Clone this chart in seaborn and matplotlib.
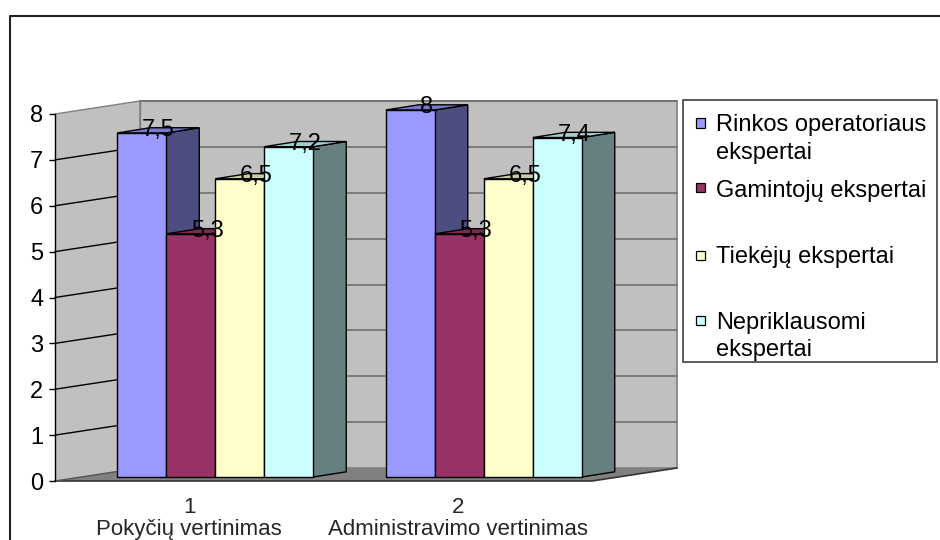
import numpy as np
import pandas as pd
import matplotlib
matplotlib.use("Agg")
import matplotlib.pyplot as plt
from matplotlib.patches import Polygon, Rectangle
from matplotlib.lines import Line2D
import seaborn as sns

# ---- data -------------------------------------------------------------
categories = ["1\nPokyčių vertinimas", "2\nAdministravimo vertinimas"]
series_names = ["Rinkos operatoriaus\nekspertai", "Gamintojų ekspertai",
                "Tiekėjų ekspertai", "Nepriklausomi\nekspertai"]
rinkos_operatoriaus = [7.5, 8.0]
gamintoju = [5.3, 5.3]
tiekeju = [6.5, 6.5]
nepriklausomi = [7.2, 7.4]
y_ticks = [0, 1, 2, 3, 4, 5, 6, 7, 8]
colors = ["#9999FF", "#993366", "#FFFFCC", "#CCFFFF"]

series_values = [rinkos_operatoriaus, gamintoju, tiekeju, nepriklausomi]
df = pd.DataFrame(
    [(cat, name, vals[i]) for name, vals in zip(series_names, series_values)
     for i, cat in enumerate(categories)],
    columns=["kategorija", "grupe", "reiksme"],
)

# ---- style ------------------------------------------------------------
sns.set_style("white")
plt.rcParams["font.family"] = ["Liberation Sans", "DejaVu Sans"]
FS = 17          # value labels, legend, value axis
FS_CAT = 16      # category labels

W, H = 940, 540
fig = plt.figure(figsize=(W / 100, H / 100), dpi=100)
fig.patch.set_facecolor("white")


def fx(x):
    return x / W


def fy(y):
    return 1 - y / H


# pixel sizes of one data unit
UX = 268.5     # px per category
UY = 45.875    # px per value unit

# front plane (value axis) and bar plane axes
ax_front = fig.add_axes([fx(55), fy(481), 2 * UX / W, 8 * UY / H])
ax_bar = fig.add_axes([fx(81), fy(477), 2 * UX / W, 8 * UY / H])
for a in (ax_front, ax_bar):
    a.set_xlim(-0.5, 1.5)
    a.set_ylim(0, 8)
ax_front.set_zorder(0)
ax_bar.set_zorder(1)
ax_bar.patch.set_alpha(0)
ax_front.patch.set_alpha(0)

# depth of the back wall, in data units of the front plane
wdx, wdy = 85 / UX, 13 / UY
x0, x1 = -0.5, 1.5
wall_grey = "#C0C0C0"
line_grey = "#808080"

# side wall and back wall
ax_front.add_patch(Polygon([(x0, 0), (x0, 8), (x0 + wdx, 8 + wdy), (x0 + wdx, wdy)],
                           closed=True, facecolor=wall_grey, edgecolor="none",
                           clip_on=False, zorder=1))
ax_front.add_patch(Rectangle((x0 + wdx, wdy), x1 - x0, 8, facecolor=wall_grey,
                             edgecolor=line_grey, linewidth=1.2, clip_on=False, zorder=1))
# floor
ax_front.add_patch(Polygon([(x0, 0), (x1, 0), (x1 + wdx, wdy), (x0 + wdx, wdy)],
                           closed=True, facecolor="#808080", edgecolor="none",
                           clip_on=False, zorder=1.5))
ax_front.add_line(Line2D([x0, x1, x1 + wdx], [0, 0, wdy], color="#333333",
                         linewidth=1.2, clip_on=False, zorder=2))
ax_front.add_line(Line2D([x0, x0 + wdx], [0, wdy], color="#555555",
                         linewidth=1.0, clip_on=False, zorder=2))

# gridlines: slanted on the side wall, horizontal on the back wall
for v in y_ticks[1:]:
    side_col = line_grey if v == y_ticks[-1] else "black"
    ax_front.add_line(Line2D([x0, x0 + wdx], [v, v + wdy], color=side_col,
                             linewidth=1.0, clip_on=False, zorder=2))
    ax_front.add_line(Line2D([x0 + wdx, x1 + wdx], [v + wdy, v + wdy], color="#707070",
                             linewidth=1.2, clip_on=False, zorder=2))
ax_front.add_line(Line2D([x0 + wdx, x0 + wdx], [wdy, 8 + wdy], color=line_grey,
                         linewidth=1.0, clip_on=False, zorder=2))

# value axis
for s in ("top", "right", "bottom"):
    ax_front.spines[s].set_visible(False)
ax_front.spines["left"].set_color("black")
ax_front.spines["left"].set_linewidth(1.0)
ax_front.spines["left"].set_zorder(3)
ax_front.set_yticks(y_ticks)
ax_front.set_yticklabels([str(t) for t in y_ticks], fontsize=FS)
ax_front.tick_params(axis="y", direction="out", length=4.3, width=1.0, pad=4.0,
                     colors="black", left=True)
ax_front.set_xticks(range(len(categories)))
ax_front.set_xticklabels(categories, fontsize=FS_CAT)
for lab in ax_front.get_xticklabels():
    lab.set_linespacing(1.05)
ax_front.tick_params(axis="x", length=0, pad=11.5)
ax_front.set_xlabel("")
ax_front.set_ylabel("")

# ---- bars -------------------------------------------------------------
sns.barplot(data=df, x="kategorija", y="reiksme", hue="grupe",
            hue_order=series_names, order=categories, palette=colors,
            width=0.73, saturation=1, edgecolor="black", linewidth=1.0,
            errorbar=None, legend=False, ax=ax_bar)
ax_bar.set_xlim(-0.5, 1.5)
ax_bar.set_ylim(0, 8)
ax_bar.axis("off")

# depth of each bar, in data units of the bar plane
bdx, bdy = 33 / UX, 5.2 / UY


def shade(hex_color, f):
    r, g, b = matplotlib.colors.to_rgb(hex_color)
    return (r * f, g * f, b * f)


bars = [p for p in ax_bar.patches if isinstance(p, Rectangle) and p.get_height() > 0]
bars.sort(key=lambda p: p.get_x())
for k, p in enumerate(bars):
    xl, w, h = p.get_x(), p.get_width(), p.get_height()
    xr = xl + w
    base = matplotlib.colors.to_hex(p.get_facecolor())
    z = 3 + 3 * k
    ax_bar.add_patch(Polygon([(xr, 0), (xr, h), (xr + bdx, h + bdy), (xr + bdx, bdy)],
                             closed=True, facecolor=shade(base, 0.5), edgecolor="black",
                             linewidth=1.0, clip_on=False, zorder=z))
    ax_bar.add_patch(Polygon([(xl, h), (xr, h), (xr + bdx, h + bdy), (xl + bdx, h + bdy)],
                             closed=True, facecolor=shade(base, 0.8), edgecolor="black",
                             linewidth=1.0, clip_on=False, zorder=z + 1))
    p.set_zorder(z + 2)
    p.set_clip_on(False)

# value labels over the top faces
for p in bars:
    h = p.get_height()
    xc = p.get_x() + p.get_width() / 2
    ax_bar.text(xc + bdx / 2, h + bdy / 2, f"{h:g}".replace(".", ","),
                ha="center", va="center", fontsize=FS, color="black",
                zorder=100, clip_on=False)

# ---- legend -------------------------------------------------------------
fig.add_artist(Rectangle((fx(683), fy(362)), (937 - 683) / W, (362 - 100) / H,
                         transform=fig.transFigure, facecolor="white",
                         edgecolor="#404040", linewidth=1.2))
row_y = [123, 188, 255, 320]
for name, col, yy in zip(series_names, colors, row_y):
    sq = 9
    fig.add_artist(Rectangle((fx(696), fy(yy + sq / 2)), sq / W, sq / H,
                             transform=fig.transFigure, facecolor=col,
                             edgecolor="black", linewidth=0.9))
    fig.text(fx(716), fy(yy - 8.5), name, fontsize=FS, ha="left", va="top",
             linespacing=1.3, color="black")

# ---- chart border -----------------------------------------------------
fig.add_artist(Line2D([fx(9.5), fx(9.5), 1.01], [-0.01, fy(15.5), fy(15.5)],
                      transform=fig.transFigure, color="#222222", linewidth=1.5))

fig.savefig("out.png", dpi=100, facecolor="white")
